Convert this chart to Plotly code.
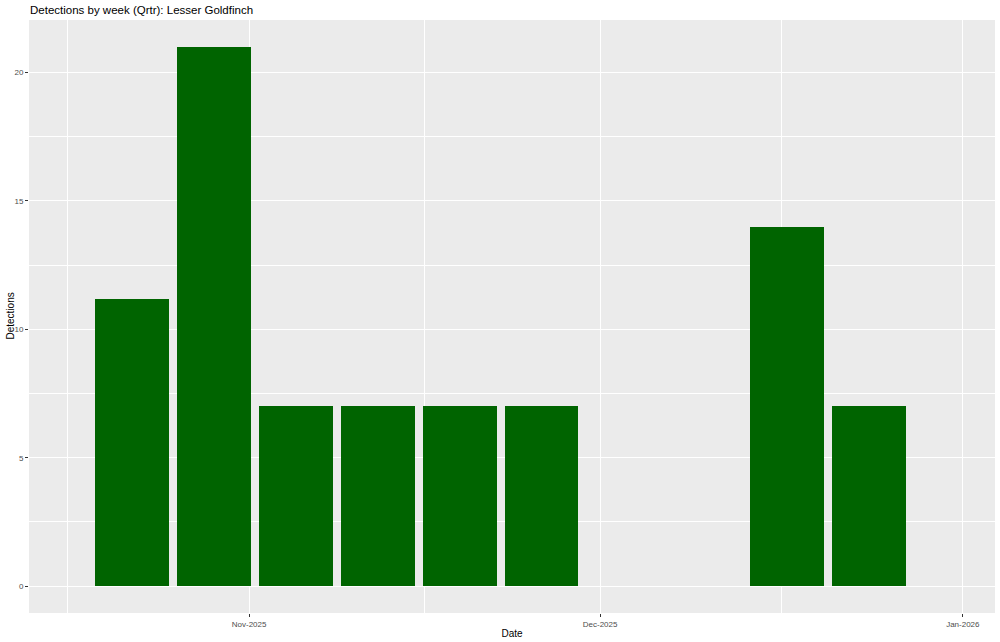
import plotly.graph_objects as go
import pandas as pd

# Data
week_dates = ["2025-10-22", "2025-10-29", "2025-11-05", "2025-11-12",
              "2025-11-19", "2025-11-26", "2025-12-17", "2025-12-24"]
detections = [11.2, 21, 7, 7, 7, 7, 14, 7]
x_major_ticks = ["2025-11-01", "2025-12-01", "2026-01-01"]
x_minor_ticks = ["2025-10-16 12:00", "2025-11-16 00:00", "2025-12-16 12:00"]
y_major_ticks = [0, 5, 10, 15, 20]
y_minor_ticks = [2.5, 7.5, 12.5, 17.5]
x_range = ["2025-10-13 04:30", "2026-01-03 18:00"]
y_range = [-1.05, 22.05]

bar_width_ms = 0.9 * 7 * 24 * 3600 * 1000

fig = go.Figure(go.Bar(
    x=pd.to_datetime(week_dates), y=detections,
    width=[bar_width_ms] * len(week_dates),
    marker=dict(color="#006400", line=dict(width=0)),
))

fig.update_layout(
    width=1000, height=642,
    paper_bgcolor="white", plot_bgcolor="#EBEBEB",
    margin=dict(l=29, r=5, t=20, b=29, autoexpand=False),
    font=dict(family="Liberation Sans, Arial, sans-serif", color="black"),
    title=dict(text="Detections by week (Qrtr): Lesser Goldfinch",
               x=0.03, xref="container", xanchor="left",
               y=1 - 10 / 642, yref="container", yanchor="middle",
               font=dict(size=11.5, color="black")),
    showlegend=False,
    bargap=0,
    annotations=[dict(text="Detections", textangle=-90,
                      xref="paper", yref="paper", x=0, y=0.5,
                      xanchor="center", yanchor="middle", xshift=-19,
                      showarrow=False, font=dict(size=10, color="black"))],
)

fig.update_xaxes(
    type="date", range=x_range, automargin=True,
    tickmode="array", tickvals=x_major_ticks, tickformat="%b-%Y",
    ticks="outside", ticklen=3, tickcolor="#333333", tickwidth=1,
    tickfont=dict(size=8, color="#4D4D4D"),
    showgrid=True, gridcolor="white", gridwidth=1.1,
    minor=dict(tickmode="array", tickvals=x_minor_ticks, showgrid=True,
               gridcolor="white", gridwidth=0.5, ticks=""),
    zeroline=False, showline=False,
    title=dict(text="Date", font=dict(size=10, color="black"), standoff=2),
)

fig.update_yaxes(
    range=y_range, automargin=True,
    tickmode="array", tickvals=y_major_ticks,
    ticks="outside", ticklen=3, tickcolor="#333333", tickwidth=1,
    tickfont=dict(size=8, color="#4D4D4D"),
    showgrid=True, gridcolor="white", gridwidth=1.1,
    minor=dict(tickmode="array", tickvals=y_minor_ticks, showgrid=True,
               gridcolor="white", gridwidth=0.5, ticks=""),
    zeroline=False, showline=False,
)

fig.write_html("out.html",
               config={"displayModeBar": False},
               post_script="document.body.style.margin='0';document.body.style.overflow='hidden';")
